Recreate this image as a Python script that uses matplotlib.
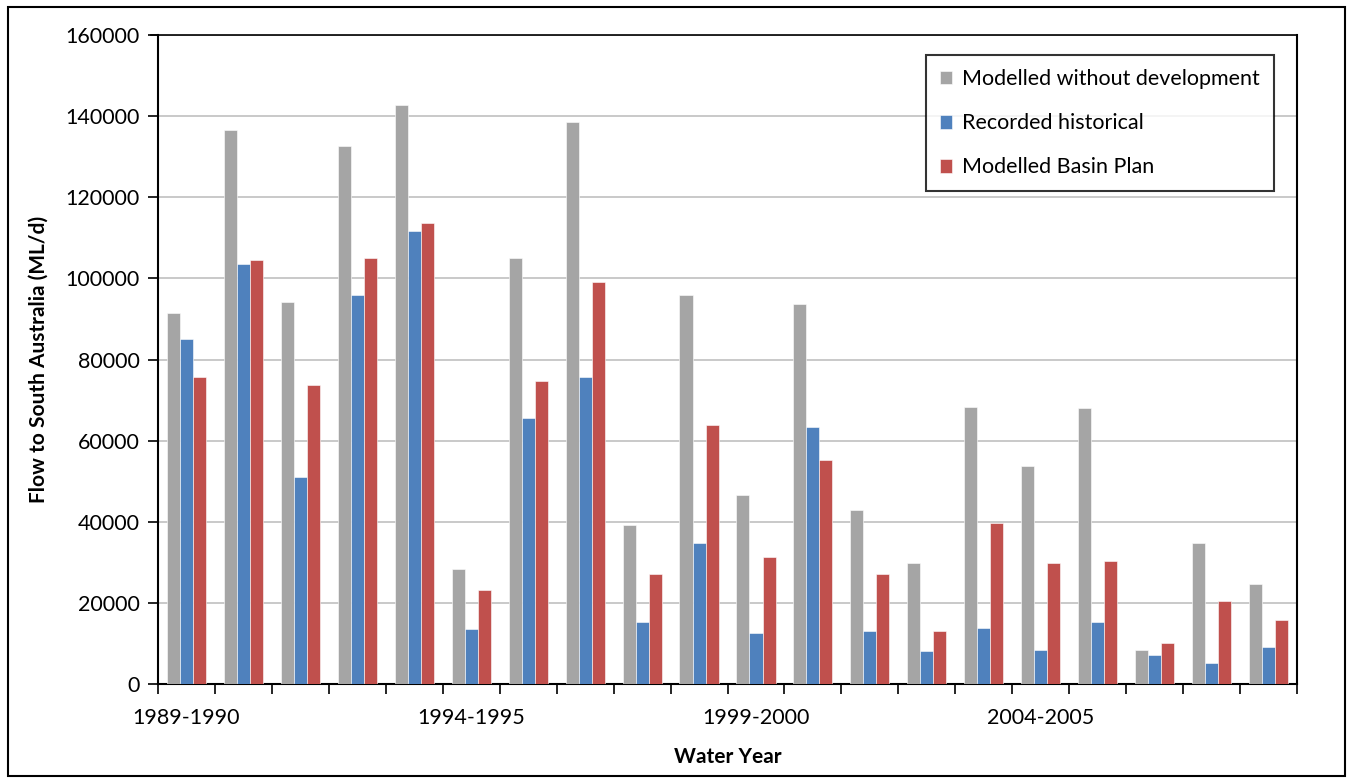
import matplotlib
matplotlib.use("Agg")
import matplotlib.pyplot as plt
import numpy as np
from matplotlib.patches import Rectangle

plt.rcParams['font.family'] = ['Lato', 'DejaVu Sans']

years = [f"{y}-{y + 1}" for y in range(1989, 2009)]
without_dev = [91500, 136700, 94200, 132600, 142700, 28400, 105000, 138500, 39300, 95900,
               46600, 93700, 42900, 29800, 68300, 53800, 68000, 8400, 34800, 24700]
recorded = [85100, 103500, 51000, 95900, 111800, 13600, 65600, 75600, 15300, 34800,
            12600, 63400, 13100, 8100, 13800, 8400, 15300, 7100, 5200, 9100]
basin_plan = [75600, 104500, 73700, 105000, 113600, 23300, 74700, 99100, 27100, 63900,
              31200, 55200, 27100, 13100, 39700, 29800, 30300, 10200, 20500, 15800]

series = [("Modelled without development", without_dev, "#A5A5A5"),
          ("Recorded historical", recorded, "#4F81BD"),
          ("Modelled Basin Plan", basin_plan, "#C0504D")]

fig = plt.figure(figsize=(13.52, 7.82), dpi=100)
ax = fig.add_axes([0.1169, 0.1253, 0.8424, 0.8299])

x = np.arange(1, len(years) + 1)
w = 0.229
for i, (name, vals, col) in enumerate(series):
    ax.bar(x + (i - 1) * w, vals, width=w, color=col, edgecolor="white",
           linewidth=0.4, label=name, zorder=3)

ax.set_xlim(0.5, len(years) + 0.5)
ax.set_ylim(0, 160000)
ax.set_yticks(np.arange(0, 160001, 20000))
ax.yaxis.grid(True, color="#C0C0C0", linewidth=1.2, zorder=0)
ax.tick_params(axis="y", labelsize=15.5, length=7, width=1.2, direction="out", pad=6)

ax.set_xticks(np.arange(0.5, len(years) + 1, 1))
ax.set_xticklabels([])
ax.tick_params(axis="x", which="major", length=7, width=1.2, direction="out")
ax.set_xticks(x[::5], minor=True)
ax.set_xticklabels(years[::5], minor=True, fontsize=15.5)
ax.tick_params(axis="x", which="minor", length=0, pad=17)

for s in ["top", "right"]:
    ax.spines[s].set_visible(False)
for s in ["left", "bottom"]:
    ax.spines[s].set_linewidth(1.5)
ax.plot([1, 1], [0, 1], transform=ax.transAxes, color="black", linewidth=1.5, clip_on=False)
ax.plot([-0.006, 1], [1, 1], transform=ax.transAxes, color="black", linewidth=1.2, clip_on=False)

ax.set_xlabel("Water Year", fontsize=15, fontweight="bold", labelpad=14)
ax.set_ylabel("Flow to South Australia (ML/d)", fontsize=15, fontweight="bold", labelpad=12)

leg = ax.legend(loc="upper right", bbox_to_anchor=(0.9797, 0.969), fontsize=15.5,
                frameon=True, fancybox=False, edgecolor="black", handlelength=0.6,
                handleheight=0.6, handletextpad=0.45, labelspacing=1.12,
                borderpad=0.65, borderaxespad=0)
leg.get_frame().set_linewidth(1.5)

fig.patches.append(Rectangle((0.006, 0.008), 0.989, 0.983, transform=fig.transFigure,
                             fill=False, edgecolor="black", linewidth=1.5))

fig.savefig("out.png", dpi=100)
